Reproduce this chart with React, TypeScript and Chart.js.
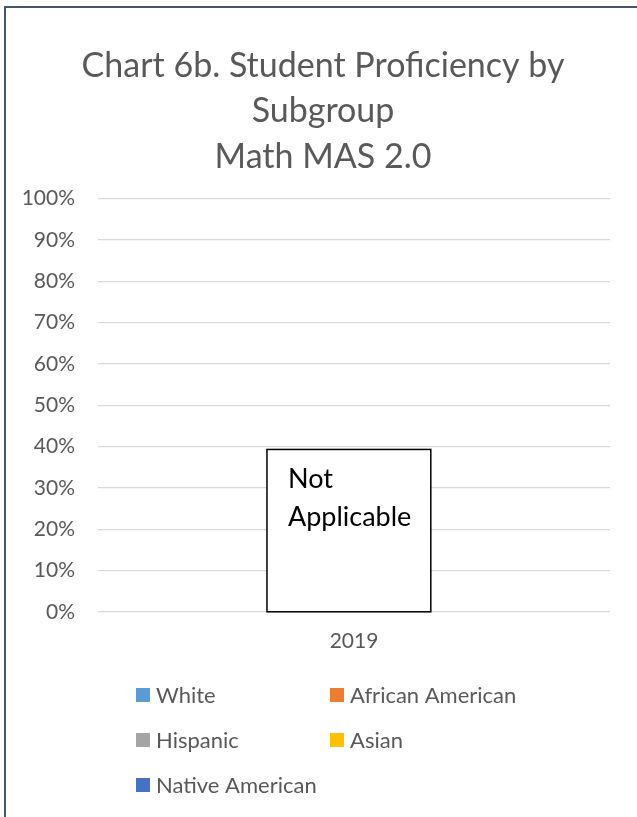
import React, { useEffect, useRef } from "react";
import { Chart, registerables } from "chart.js";

Chart.register(...registerables);

// ---- data ----
const categories: string[] = ["2019"];
const seriesNames: string[] = ["White", "African American", "Hispanic", "Asian", "Native American"];
const seriesColors: string[] = ["#5B9BD5", "#ED7D31", "#A5A5A5", "#FFC000", "#4472C4"];
// No proficiency values are reported for 2019 (Not Applicable)
const whiteValues: (number | null)[] = [null];
const africanAmericanValues: (number | null)[] = [null];
const hispanicValues: (number | null)[] = [null];
const asianValues: (number | null)[] = [null];
const nativeAmericanValues: (number | null)[] = [null];
const yTickValues: number[] = [0, 10, 20, 30, 40, 50, 60, 70, 80, 90, 100];
const titleLines: string[] = ["Chart 6b. Student Proficiency by", "Subgroup", "Math MAS 2.0"];
const noteLines: string[] = ["Not", "Applicable"];
const noteTopValue = 39.3;

const seriesValues = [whiteValues, africanAmericanValues, hispanicValues, asianValues, nativeAmericanValues];

const FONT = "Lato, 'Open Sans', sans-serif";
const TEXT = "#595959";

const notePlugin = {
  id: "noteBox",
  afterDatasetsDraw(chart: any) {
    const { ctx } = chart;
    const x = chart.scales.x;
    const y = chart.scales.y;
    const cx = x.getPixelForValue(0);
    const bandW = x.width / categories.length;
    const left = cx - bandW * 0.17;
    const right = cx + bandW * 0.15;
    const top = y.getPixelForValue(noteTopValue);
    const bottom = y.getPixelForValue(0);
    ctx.save();
    ctx.fillStyle = "#FFFFFF";
    ctx.fillRect(left, top, right - left, bottom - top);
    ctx.strokeStyle = "#000000";
    ctx.lineWidth = 1.5;
    ctx.strokeRect(left, top, right - left, bottom - top);
    ctx.fillStyle = "#000000";
    ctx.font = `27px ${FONT}`;
    ctx.textAlign = "left";
    ctx.textBaseline = "alphabetic";
    noteLines.forEach((t, i) => {
      ctx.fillText(t, left + 21, top + 39 + i * 38);
    });
    ctx.restore();
  },
};

const gridLegendPlugin = {
  id: "gridLegend",
  afterDraw(chart: any) {
    const { ctx } = chart;
    const x = chart.scales.x;
    const area = chart.chartArea;
    const baseX = area.left + 38;
    const colW = 194;
    const baseY = x.bottom + 24;
    const rowH = 45;
    ctx.save();
    ctx.font = `22px ${FONT}`;
    ctx.textBaseline = "middle";
    ctx.textAlign = "left";
    chart.data.datasets.forEach((ds: any, i: number) => {
      const col = i % 2;
      const row = Math.floor(i / 2);
      const lx = baseX + col * colW;
      const ly = baseY + row * rowH;
      ctx.fillStyle = ds.backgroundColor;
      ctx.fillRect(lx, ly - 7, 14, 14);
      ctx.fillStyle = TEXT;
      ctx.fillText(ds.label, lx + 20, ly + 1);
    });
    ctx.restore();
  },
};

export default function App() {
  const ref = useRef<HTMLCanvasElement | null>(null);
  useEffect(() => {
    if (!ref.current) return;
    const chart = new Chart(ref.current, {
      type: "bar",
      data: {
        labels: categories,
        datasets: seriesNames.map((name, i) => ({
          label: name,
          data: seriesValues[i],
          backgroundColor: seriesColors[i],
          borderWidth: 0,
        })),
      },
      options: {
        responsive: false,
        animation: false,
        devicePixelRatio: 1,
        layout: { padding: { top: 43, left: 16, right: 7, bottom: 146 } },
        plugins: {
          legend: { display: false },
          tooltip: { enabled: false },
          title: {
            display: true,
            text: titleLines,
            color: TEXT,
            font: { family: FONT, size: 34, weight: "normal", lineHeight: 1.34 },
            padding: { top: 0, bottom: 19 },
          },
        },
        scales: {
          x: {
            offset: true,
            grid: { display: false, drawTicks: false },
            border: { display: false },
            ticks: { color: TEXT, font: { family: FONT, size: 21 }, padding: 17 },
          },
          y: {
            min: 0,
            max: 100,
            afterFit(scale: any) {
              scale.width = 82;
            },
            afterBuildTicks(scale: any) {
              scale.ticks = yTickValues.map((v) => ({ value: v }));
            },
            grid: { color: "#D9D9D9", lineWidth: 1.2, drawTicks: false },
            border: { display: false },
            ticks: {
              color: TEXT,
              font: { family: FONT, size: 21 },
              padding: 23,
              callback: (v: any) => `${v}%`,
            },
          },
          yRightSpacer: {
            type: "linear",
            position: "right",
            display: true,
            min: 0,
            max: 100,
            afterFit(scale: any) {
              scale.width = 20;
            },
            grid: { display: false, drawTicks: false },
            border: { display: false },
            ticks: { display: false },
          },
        },
      },
      plugins: [notePlugin, gridLegendPlugin],
    });
    return () => chart.destroy();
  }, []);

  return (
    <div style={{ position: "absolute", left: 0, top: 0, width: 637, height: 817, overflow: "hidden", background: "#fff" }}>
      <canvas ref={ref} width={637} height={817} style={{ position: "absolute", left: 0, top: 0 }} />
      <div
        style={{
          position: "absolute",
          left: 4,
          top: 6,
          width: 700,
          height: 900,
          borderLeft: "2px solid #46566C",
          borderTop: "2px solid #46566C",
          pointerEvents: "none",
        }}
      />
    </div>
  );
}
